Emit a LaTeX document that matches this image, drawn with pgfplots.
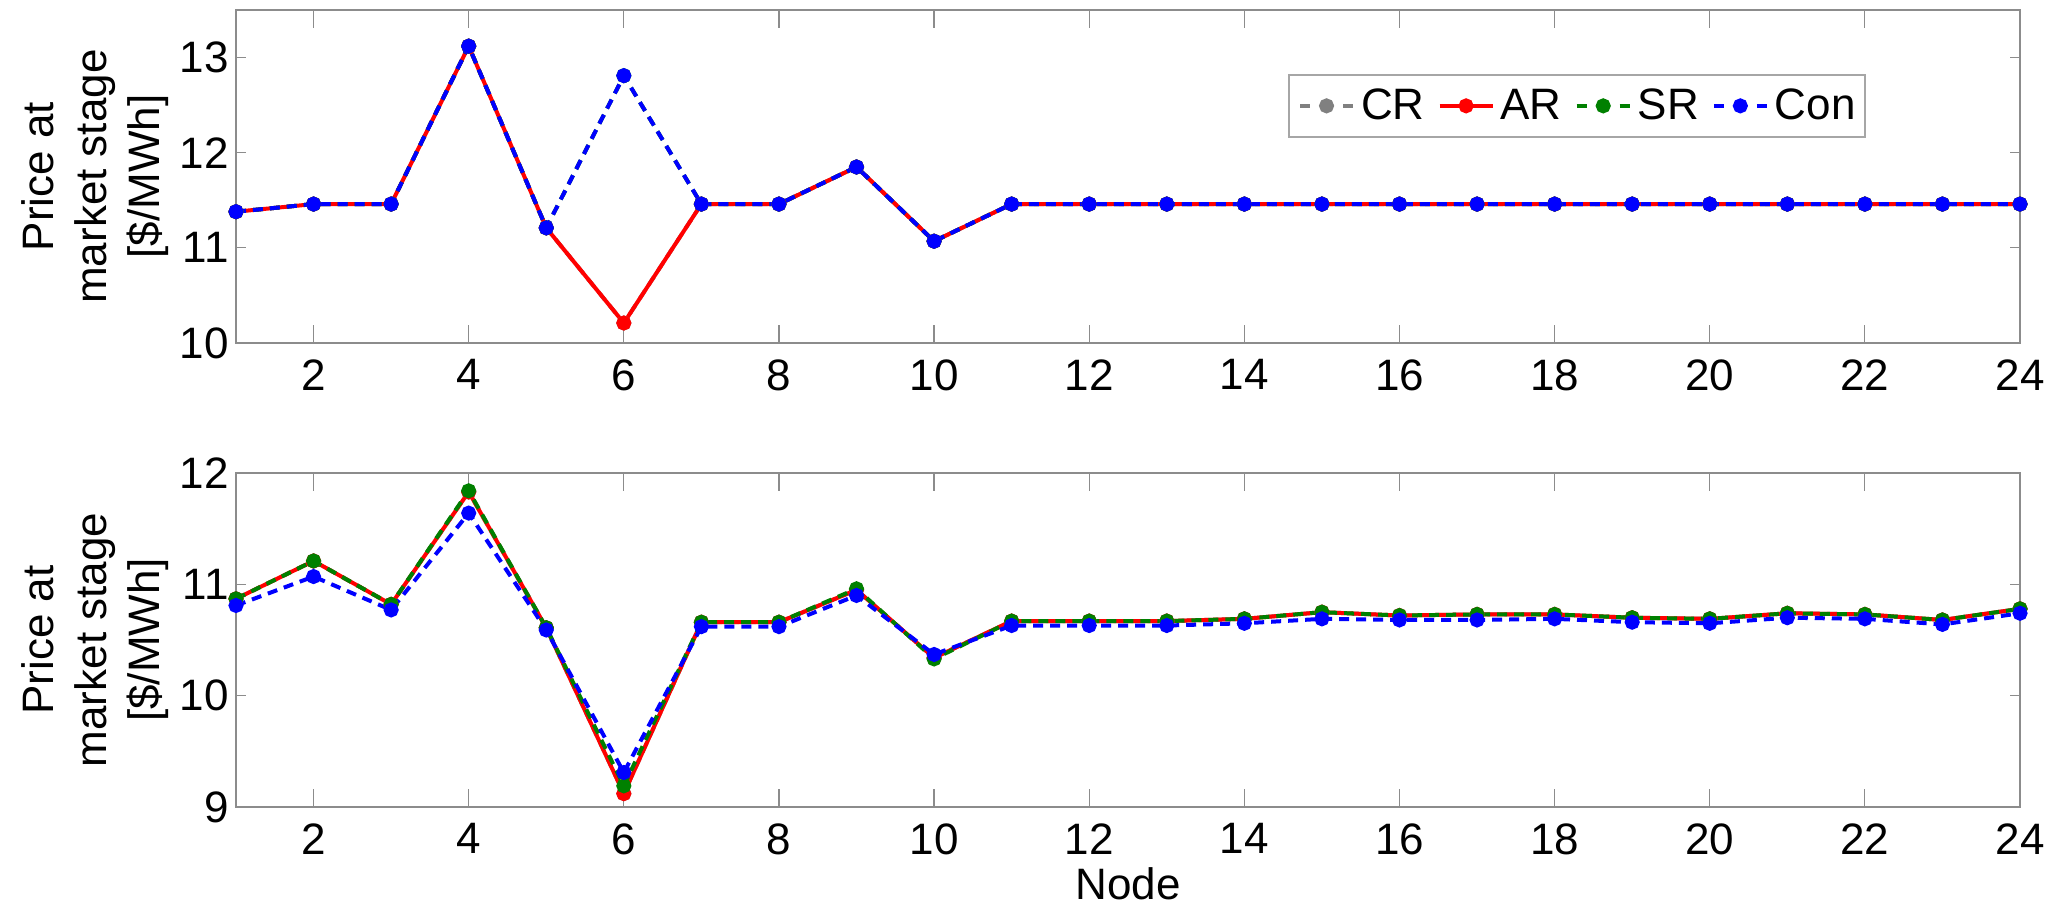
\documentclass[border=0pt]{standalone}
\usepackage{fontspec}
\setmainfont{Liberation Sans}
\usepackage{pgfplots}
\usepackage{pgfplotstable}
\pgfplotsset{compat=1.18}
\definecolor{crgray}{rgb}{0.5,0.5,0.5}
\definecolor{srgreen}{rgb}{0,0.5,0}

\pgfplotstableread{
x CR AR SR Con
1 11.38 11.38 11.38 11.38
2 11.46 11.46 11.46 11.46
3 11.46 11.46 11.46 11.46
4 13.12 13.12 13.12 13.12
5 11.21 11.21 11.21 11.21
6 10.21 10.21 12.81 12.81
7 11.46 11.46 11.46 11.46
8 11.46 11.46 11.46 11.46
9 11.85 11.85 11.85 11.85
10 11.07 11.07 11.07 11.07
11 11.46 11.46 11.46 11.46
12 11.46 11.46 11.46 11.46
13 11.46 11.46 11.46 11.46
14 11.46 11.46 11.46 11.46
15 11.46 11.46 11.46 11.46
16 11.46 11.46 11.46 11.46
17 11.46 11.46 11.46 11.46
18 11.46 11.46 11.46 11.46
19 11.46 11.46 11.46 11.46
20 11.46 11.46 11.46 11.46
21 11.46 11.46 11.46 11.46
22 11.46 11.46 11.46 11.46
23 11.46 11.46 11.46 11.46
24 11.46 11.46 11.46 11.46
}\toptab

\pgfplotstableread{
x CR AR SR Con
1 10.87 10.87 10.87 10.81
2 11.21 11.21 11.21 11.07
3 10.82 10.82 10.82 10.77
4 11.83 11.83 11.84 11.64
5 10.61 10.61 10.61 10.59
6 9.12 9.12 9.19 9.31
7 10.66 10.66 10.66 10.62
8 10.66 10.66 10.66 10.62
9 10.95 10.95 10.96 10.90
10 10.34 10.34 10.33 10.37
11 10.67 10.67 10.67 10.63
12 10.67 10.67 10.67 10.63
13 10.67 10.67 10.67 10.63
14 10.69 10.69 10.69 10.65
15 10.75 10.75 10.75 10.69
16 10.72 10.72 10.72 10.68
17 10.73 10.73 10.73 10.68
18 10.73 10.73 10.73 10.69
19 10.70 10.70 10.70 10.66
20 10.69 10.69 10.69 10.65
21 10.74 10.74 10.74 10.70
22 10.73 10.73 10.73 10.69
23 10.68 10.68 10.68 10.64
24 10.78 10.78 10.78 10.74
}\bottab

\newcommand{\bigf}{\fontsize{22}{26.4}\selectfont}

\pgfplotsset{
  myaxis/.style={
    scale only axis, width=892pt, height=166.5pt,
    xmin=1, xmax=24, xtick={2,4,...,24},
    clip=false,
    axis line style={black!45, line width=0.8pt},
    tick style={black!45, line width=0.6pt},
    tick align=inside,
    xtick style={/pgfplots/major tick length=9pt},
    ytick style={/pgfplots/major tick length=5pt},
    /pgf/number format/assume math mode=true,
    ticklabel style={inner sep=0pt, font=\bigf, black},
    xticklabel style={yshift=-8pt},
    yticklabel style={xshift=-3.5pt},
    every axis y label/.style={at={(axis description cs:0,0.5)}, xshift=-70.5pt, rotate=90, anchor=center, align=center, font=\bigf},
    every axis x label/.style={at={(axis description cs:0.5,0)}, anchor=base, inner sep=0pt, yshift=-46pt, font=\bigf},
    ylabel={Price at\\market stage\\{}[\$/MWh]},
  },
  base/.style={line width=2pt, mark=*, mark size=2.75pt, mark options={solid}},
  dashleg/.style={legend image code/.code={
      \draw[dash pattern=on 5pt off 16.5pt] (0pt,0pt)--(26.5pt,0pt);
      \draw[solid] plot coordinates {(13.25pt,0pt)};}},
  solidleg/.style={legend image code/.code={
      \draw (0pt,0pt)--(26.5pt,0pt);
      \draw plot coordinates {(13.25pt,0pt)};}},
  CRs/.style={base, color=crgray, dash pattern=on 5pt off 3.5pt, dashleg},
  ARs/.style={base, color=red, solid, solidleg},
  SRs/.style={base, color=srgreen, dash pattern=on 5pt off 3.5pt, dashleg},
  Cons/.style={base, color=blue, dash pattern=on 5pt off 3.5pt, dashleg},
}

\begin{document}
\begin{tikzpicture}
\begin{axis}[myaxis, at={(118pt,284pt)}, anchor=south west,
  ymin=10, ymax=13.5, ytick={10,11,12,13},
  legend columns=4,
  legend cell align=left,
  legend style={at={(0.5897,0.8078)}, anchor=north west, draw=black!35, line width=1pt,
    inner xsep=4.5pt, inner ysep=7pt, font=\bigf, nodes={inner sep=0pt},
    /tikz/every odd column/.append style={column sep=3pt},
    /tikz/every even column/.append style={column sep=6.5pt}},
]
\addplot[CRs] table[x=x,y=CR] {\toptab};
\addlegendentry{CR}
\addplot[ARs] table[x=x,y=AR] {\toptab};
\addlegendentry{AR}
\addplot[SRs] table[x=x,y=SR] {\toptab};
\addlegendentry{SR}
\addplot[Cons] table[x=x,y=Con] {\toptab};
\addlegendentry{Con}
\end{axis}

\begin{axis}[myaxis, at={(118pt,52pt)}, anchor=south west, height=167pt,
  ymin=9, ymax=12, ytick={9,10,11,12},
  xlabel={Node},
]
\addplot[CRs] table[x=x,y=CR] {\bottab};
\addplot[ARs] table[x=x,y=AR] {\bottab};
\addplot[SRs] table[x=x,y=SR] {\bottab};
\addplot[Cons] table[x=x,y=Con] {\bottab};
\end{axis}
\pgfresetboundingbox
\path (0pt,0pt) rectangle (1029.5pt,455.5pt);
\end{tikzpicture}
\end{document}
